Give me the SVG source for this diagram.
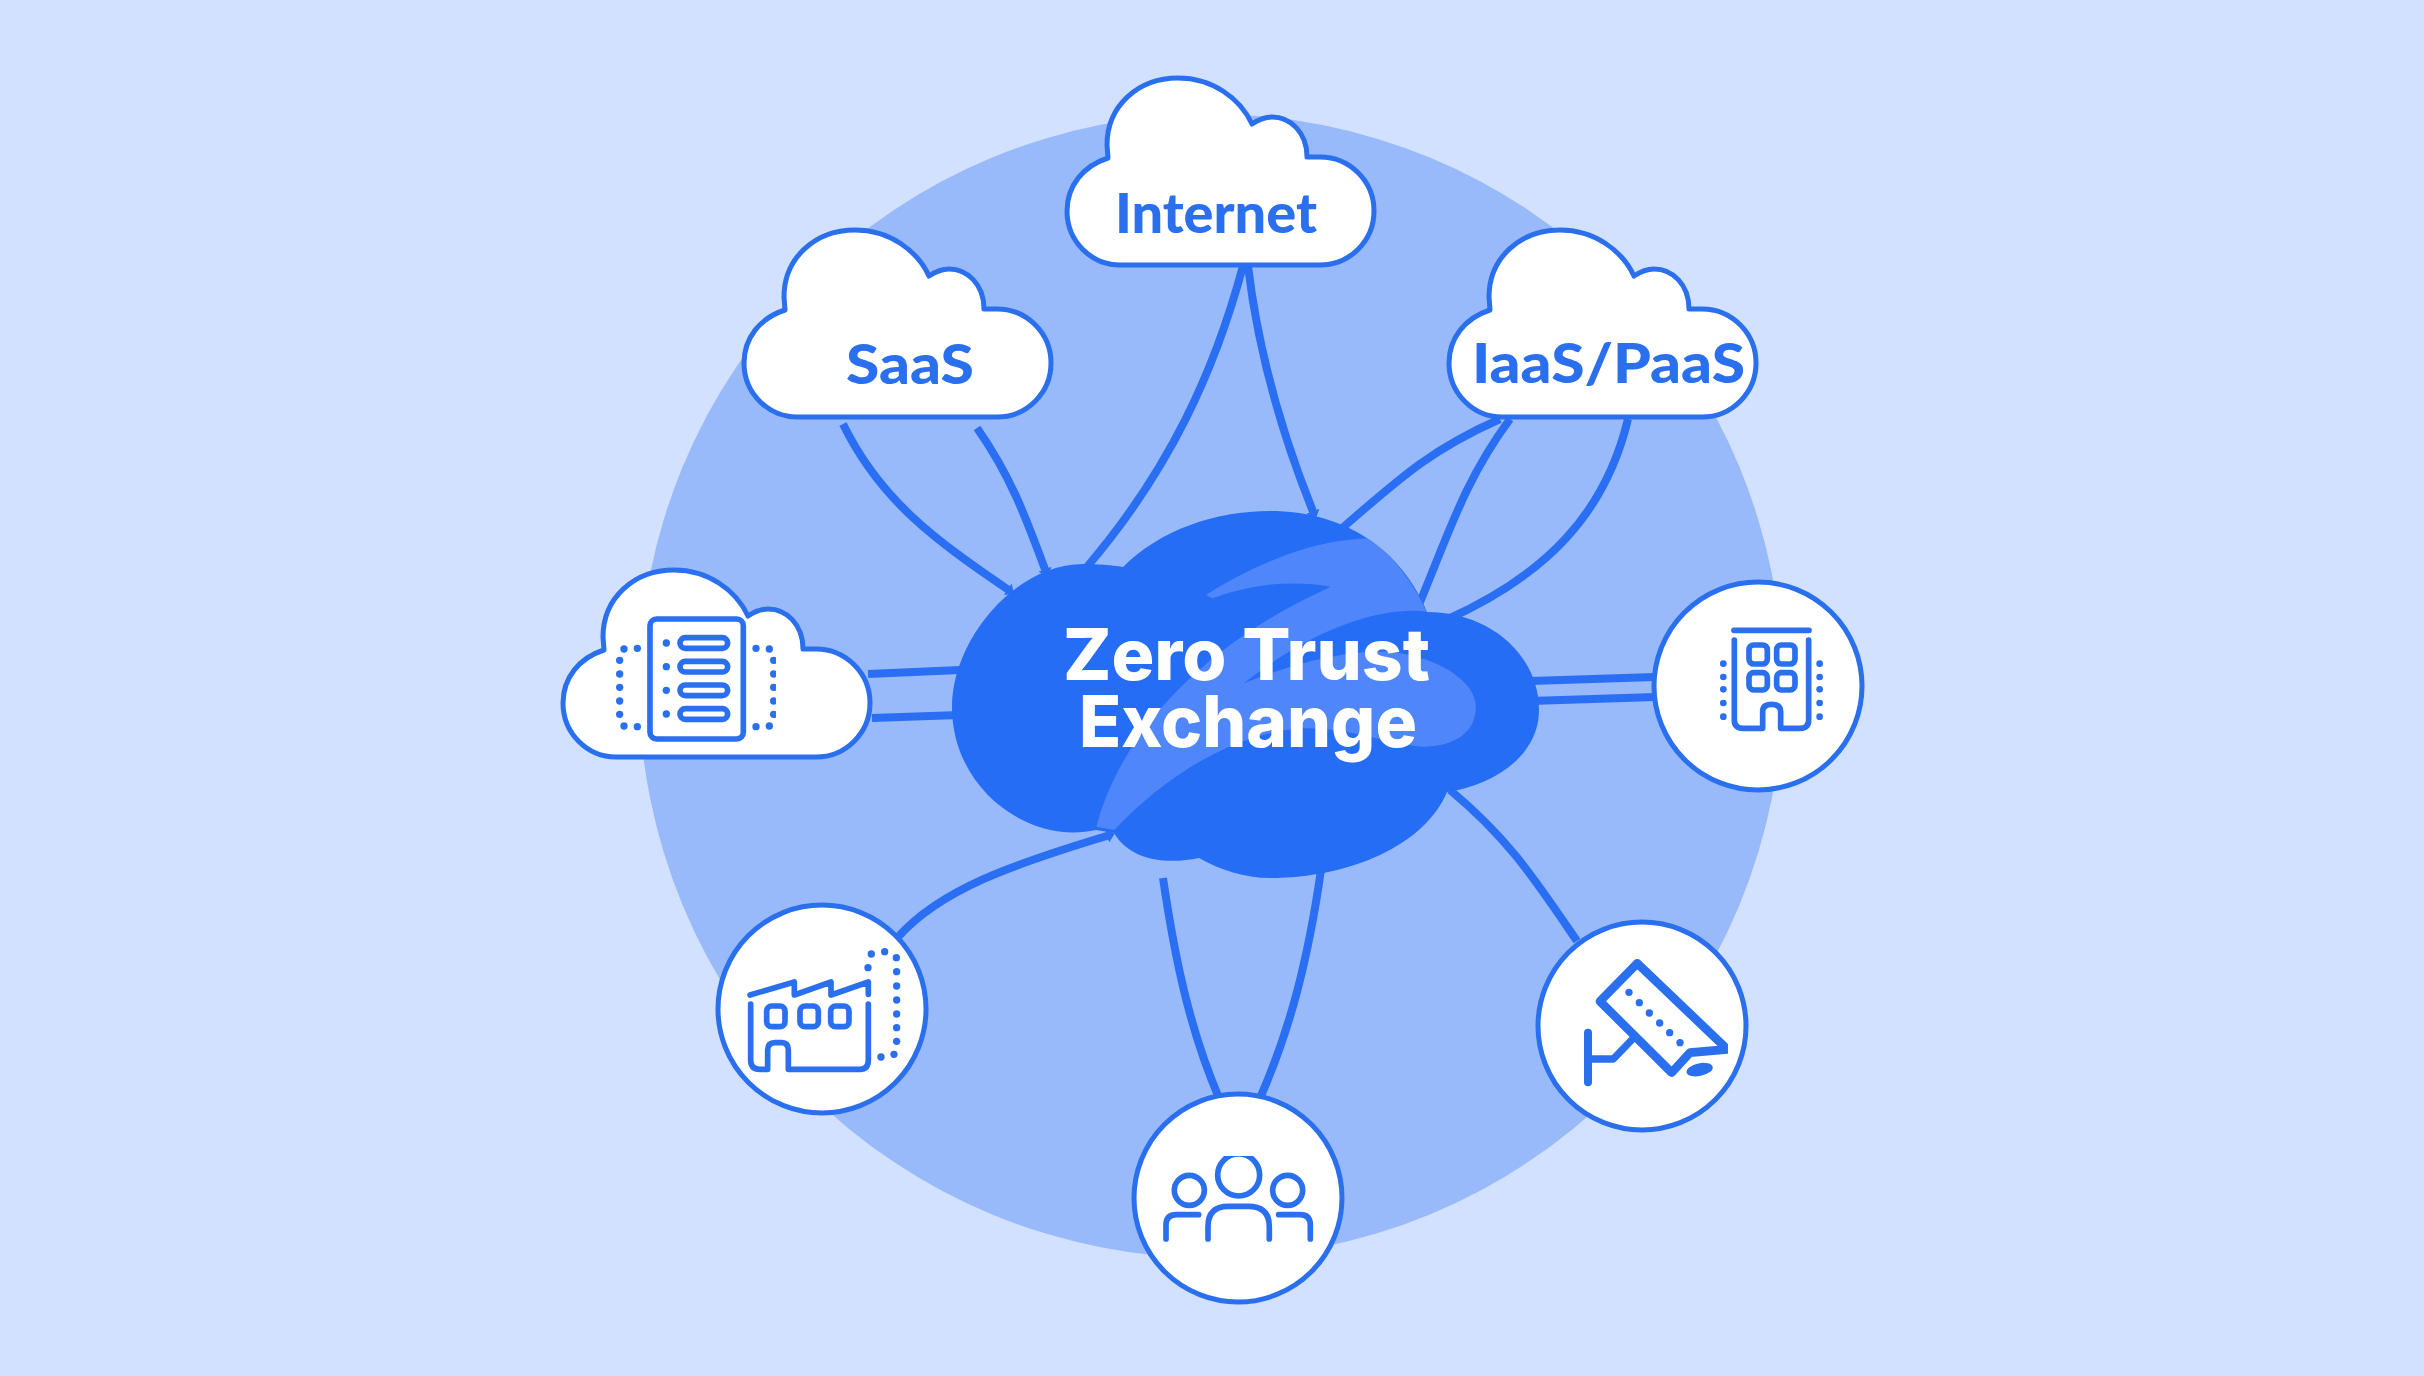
<svg xmlns="http://www.w3.org/2000/svg" width="2424" height="1376" viewBox="0 0 2424 1376">
<style>
.ln{fill:none;stroke:#2A6FF3;stroke-width:8;stroke-linecap:butt}
.cl{fill:#fff;stroke:#2A6FEE;stroke-width:5;stroke-linejoin:round}
.ci{fill:#fff;stroke:#2A6FEE;stroke-width:5}
.ic{fill:none;stroke:#2A6FEE;stroke-width:17;stroke-linecap:round;stroke-linejoin:round}
.dt{fill:#2A6FEE;stroke:none}
.lb{font-family:"Lato","Liberation Sans",sans-serif;font-weight:900;fill:#2A6FEE;font-size:55px}
.hd{font-family:"Inter","Liberation Sans",sans-serif;font-weight:800;fill:#fff;font-size:71px}
</style>
<defs>
<path id="cloud" d="M70 205H270A54 54 0 0 0 270 97H257C257 72 240 57 222 57C215 57 208 60 202 64C190 38 162 18 128 18C88 18 57 46 57 85L58 98C33 106 17 126 17 151C17 181 41 205 70 205Z"/>
<path id="core" d="M1096 830C1030 845 952 790 952 707C952 640 1015 564 1083 564C1098 564 1112 565 1123 567C1160 530 1215 511 1270 511C1345 511 1402 550 1427 612C1490 612 1539 655 1539 710C1539 755 1495 785 1447 792C1425 845 1350 878 1270 878C1245 878 1220 870 1199 858C1165 865 1130 860 1114 833Z"/>
<marker id="flare" markerUnits="userSpaceOnUse" markerWidth="10" markerHeight="14" refX="3" refY="7" orient="auto"><path d="M0 0L8 7L0 14Z" fill="#2A6FF3"/></marker>
<clipPath id="coreclip"><use href="#core"/></clipPath>
<clipPath id="headclip"><rect x="280" y="228" width="160" height="140"/></clipPath>
<clipPath id="srvclip"><rect x="190" y="270" width="488" height="280"/></clipPath>
<clipPath id="camclip"><rect x="180" y="140" width="444" height="400"/></clipPath>
</defs>
<rect id="background" width="2424" height="1376" fill="#D1E1FF"/>
<circle id="ring" cx="1211" cy="686" r="572" fill="#98BAFB"/>
<g id="connectors" class="connectors">
<path class="ln" marker-end="url(#flare)" d="M843 424C880 500 935 540 1010 591"/>
<path class="ln" marker-end="url(#flare)" d="M977 428C1010 475 1025 515 1046 572"/>
<path class="ln" d="M1243 266C1215 370 1170 470 1086 568"/>
<path class="ln" marker-end="url(#flare)" d="M1248 266C1258 350 1280 430 1314 514"/>
<path class="ln" d="M1500 419C1430 450 1400 478 1340 530"/>
<path class="ln" marker-end="url(#flare)" d="M1510 419C1465 480 1450 530 1418 607"/>
<path class="ln" d="M1628 419C1605 515 1545 575 1448 619"/>
<path class="ln" d="M868 674L960 670"/>
<path class="ln" d="M872 718L960 715"/>
<path class="ln" d="M1530 681L1655 677"/>
<path class="ln" d="M1530 701L1655 697"/>
<path class="ln" d="M1450 790C1510 840 1535 880 1577 941"/>
<path class="ln" d="M1163 878C1175 960 1190 1030 1219 1098"/>
<path class="ln" d="M1321 870C1308 960 1290 1030 1260 1098"/>
<path class="ln" marker-end="url(#flare)" d="M898 937C940 890 1010 865 1110 835"/>
</g>
<g id="zero-trust-exchange">
<use href="#core" fill="#266DF6"/>
<g clip-path="url(#coreclip)">
<path fill="#4F86FA" transform="translate(900 480) scale(.4464 .3333)" d="M685 345C800 250 930 175 1060 175C1110 240 1150 310 1180 395C1100 380 950 420 770 610C900 540 1010 510 1100 515C1200 530 1290 600 1290 680C1290 760 1240 800 1170 800C1090 790 1000 740 900 745C750 760 600 880 480 1050L440 1040C480 830 620 530 965 320C880 300 790 310 700 355Z"/>
</g>
<text class="hd" x="1063" y="680" textLength="367" lengthAdjust="spacingAndGlyphs">Zero Trust</text>
<text class="hd" x="1079" y="747" textLength="338" lengthAdjust="spacingAndGlyphs">Exchange</text>
</g>
<g id="internet">
<use href="#cloud" class="cl" transform="translate(1050 60)"/>
<text class="lb" x="1115" y="233" textLength="202" lengthAdjust="spacingAndGlyphs">Internet</text>
</g>
<g id="saas">
<use href="#cloud" class="cl" transform="translate(727 212)"/>
<text class="lb" x="846" y="384" textLength="128" lengthAdjust="spacingAndGlyphs">SaaS</text>
</g>
<g id="iaas-paas">
<use href="#cloud" class="cl" transform="translate(1432 212)"/>
<text class="lb" x="1472" y="383" textLength="273" lengthAdjust="spacingAndGlyphs">IaaS/PaaS</text>
</g>
<g id="server-cloud">
<use href="#cloud" class="cl" transform="translate(546 552)"/>
<g transform="translate(550 550) scale(.3333)">
<rect class="ic" x="300" y="207" width="280" height="360" rx="20"/>
<g class="ic">
<rect x="390" y="263" width="143" height="32" rx="16"/><rect x="390" y="334" width="143" height="32" rx="16"/><rect x="390" y="405" width="143" height="32" rx="16"/><rect x="390" y="476" width="143" height="32" rx="16"/>
</g>
<g class="dt">
<circle cx="349" cy="279" r="11"/><circle cx="349" cy="350" r="11"/><circle cx="349" cy="421" r="11"/><circle cx="349" cy="492" r="11"/>
<circle cx="222" cy="297" r="11"/><circle cx="262" cy="295" r="11"/><circle cx="209" cy="331" r="11"/><circle cx="209" cy="372" r="11"/><circle cx="209" cy="412" r="11"/><circle cx="209" cy="453" r="11"/><circle cx="209" cy="493" r="11"/><circle cx="222" cy="528" r="11"/><circle cx="262" cy="530" r="11"/>
<g clip-path="url(#srvclip)"><circle cx="618" cy="295" r="11"/><circle cx="658" cy="297" r="11"/><circle cx="671" cy="331" r="11"/><circle cx="671" cy="372" r="11"/><circle cx="671" cy="412" r="11"/><circle cx="671" cy="453" r="11"/><circle cx="671" cy="493" r="11"/><circle cx="618" cy="530" r="11"/><circle cx="658" cy="528" r="11"/></g>
</g>
</g>
</g>
<g id="branch-building">
<circle class="ci" cx="1758" cy="686" r="104"/>
<g transform="translate(1640 570) scale(.3333)">
<path class="ic" d="M282 181H507"/>
<path class="ic" d="M283 210V450Q283 475 310 475H368V425Q368 403 395 403Q422 403 422 425V475H480Q506 475 506 450V210"/>
<rect class="ic" x="327" y="225" width="55" height="57" rx="14"/><rect class="ic" x="410" y="225" width="55" height="57" rx="14"/><rect class="ic" x="327" y="308" width="55" height="52" rx="14"/><rect class="ic" x="410" y="308" width="55" height="52" rx="14"/>
<g class="dt"><circle cx="250" cy="281" r="10"/><circle cx="250" cy="321" r="10"/><circle cx="250" cy="358" r="10"/><circle cx="250" cy="399" r="10"/><circle cx="250" cy="440" r="10"/><circle cx="539" cy="281" r="10"/><circle cx="539" cy="321" r="10"/><circle cx="539" cy="358" r="10"/><circle cx="539" cy="399" r="10"/><circle cx="539" cy="440" r="10"/></g>
</g>
</g>
<g id="camera">
<circle class="ci" cx="1642" cy="1026" r="104"/>
<g transform="translate(1520 910) scale(.3333)">
<path clip-path="url(#camclip)" class="ic" style="stroke-width:26" d="M352 160L622 418L510 428L455 488L240 274Z"/>
<path class="ic" style="stroke-width:24" d="M204 368V517"/>
<path class="ic" style="stroke-width:22;stroke-linecap:butt" d="M204 447H280L340 385"/>
<ellipse class="dt" cx="539" cy="479" rx="40" ry="19" transform="rotate(-12 539 479)"/>
<g class="dt"><circle cx="327" cy="247" r="11"/><circle cx="358" cy="278" r="11"/><circle cx="388" cy="309" r="11"/><circle cx="419" cy="339" r="11"/><circle cx="449" cy="368" r="11"/><circle cx="480" cy="398" r="11"/></g>
</g>
</g>
<g id="users">
<circle class="ci" cx="1238" cy="1198" r="104"/>
<g transform="translate(1120 1080) scale(.3333)">
<circle clip-path="url(#headclip)" class="ic" cx="356" cy="285" r="63"/>
<circle class="ic" cx="208" cy="331" r="45"/><circle class="ic" cx="503" cy="331" r="45"/>
<path class="ic" d="M264 477V440Q264 379 325 379H385Q448 379 448 440V477"/>
<path class="ic" d="M138 477V435Q138 404 170 404H236"/>
<path class="ic" d="M476 404H540Q571 404 571 435V477"/>
</g>
</g>
<g id="factory">
<circle class="ci" cx="822" cy="1009" r="104"/>
<g transform="translate(700 900) scale(.3333)">
<path class="ic" d="M150 285L283 246V285L393 246V285L505 246V283"/>
<path class="ic" d="M152 312V480Q152 508 180 508H203V450Q203 428 225 428H245Q265 428 265 450V508H480Q505 508 505 480V312"/>
<rect class="ic" x="200" y="318" width="55" height="62" rx="15"/><rect class="ic" x="300" y="318" width="55" height="62" rx="15"/><rect class="ic" x="392" y="318" width="55" height="62" rx="15"/>
<g class="dt"><circle cx="514" cy="162" r="11"/><circle cx="554" cy="155" r="11"/><circle cx="589" cy="173" r="11"/><circle cx="504" cy="203" r="11"/><circle cx="590" cy="215" r="11"/><circle cx="590" cy="258" r="11"/><circle cx="590" cy="300" r="11"/><circle cx="590" cy="342" r="11"/><circle cx="590" cy="383" r="11"/><circle cx="590" cy="424" r="11"/><circle cx="582" cy="463" r="11"/><circle cx="543" cy="471" r="11"/></g>
</g>
</g>
</svg>
